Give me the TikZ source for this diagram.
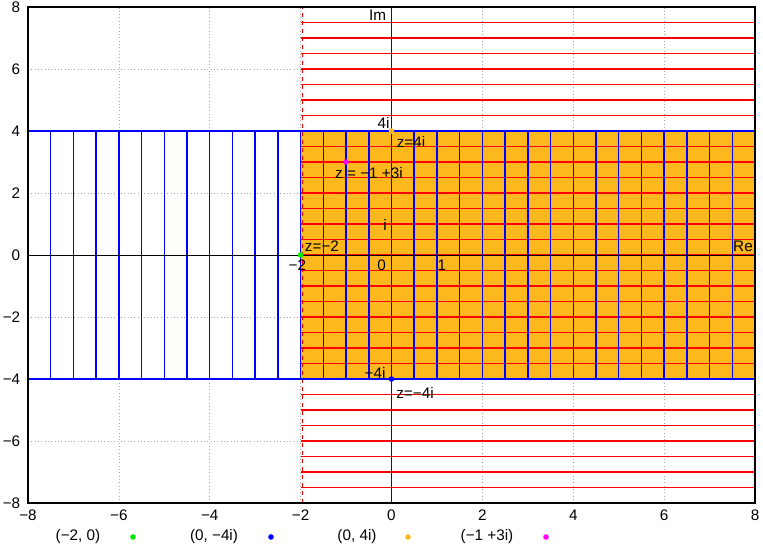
\documentclass[tikz,border=0pt]{standalone}
\usepackage{fontspec}
\setmainfont{Liberation Sans}
\usetikzlibrary{positioning}
\definecolor{regionfill}{RGB}{253,184,30}
\definecolor{ptgreen}{RGB}{0,235,0}
\definecolor{ptmagenta}{RGB}{255,0,255}

\begin{document}
\begin{tikzpicture}[x=1.2023cm,y=0.8202cm,font=\fontsize{11.5}{13}\selectfont,
    gridline/.style={gray!70,dotted,line width=0.5pt},
    hline/.style={red,line width=1.1pt},
    vline/.style={blue,line width=1.1pt},
    pt/.style={circle,fill=#1,inner sep=0pt,minimum size=4.2pt},
    lbl/.style={inner sep=0.5pt}]

    \useasboundingbox (-8.616,-9.355) rectangle (8.176,8.226);

    % grid
    \foreach \t in {-6,-4,...,6} {
        \draw[gridline] (\t,-8) -- (\t,8);
        \draw[gridline] (-8,\t) -- (8,\t);
    }

    % strip
    \fill[regionfill] (-2,-4) rectangle (8,4);
    \foreach \y in {-8,-7.5,...,8}
        \draw[hline] (-2,\y) -- (8,\y);
    \draw[red,dashed,line width=0.8pt] (-1.96,-8) -- (-1.96,8);
    \foreach \x in {-8,-7.5,...,8}
        \draw[vline] (\x,-4) -- (\x,4);
    \draw[vline] (-8,4) -- (8,4);
    \draw[vline] (-8,-4) -- (8,-4);

    % axes
    \draw[black,line width=0.6pt] (-8,0) -- (8,0);
    \draw[black!80!brown,line width=1.2pt] (0,-8) -- (0,8);
    \draw[black,line width=1pt] (-8,-8) rectangle (8,8);

    % ticks
    \foreach \t in {-8,-6,...,8} {
        \node[anchor=east,lbl] at (-8.15,\t) {\ifnum\t<0 −\the\numexpr-\t\relax\else\t\fi};
        \node[anchor=north,lbl] at (\t,-8.2) {\ifnum\t<0 −\the\numexpr-\t\relax\else\t\fi};
    }

    % points
    \node[pt=ptgreen] (pA) at (-2,0) {};
    \node[pt=blue] (pB) at (0,-4) {};
    \node[pt=regionfill] (pC) at (0,4) {};
    \node[pt=ptmagenta] (pD) at (-1,3) {};

    % labels
    \node[lbl] (im) at (-0.308,7.742) {Im};
    \node[lbl] (re) at (7.736,0.29) {Re};
    \node[lbl] (fouri) at (-0.176,4.258) {4i};
    \node[lbl] (zfouri) at (0.429,3.655) {z=4i};
    \node[lbl] (zD) at (-0.495,2.655) {z = −1 +3i};
    \node[lbl] (unit) at (-0.143,0.968) {i};
    \node[lbl] (zA) at (-1.53,0.3) {z=−2};
    \node[lbl] (mtwo) at (-2.07,-0.32) {−2};
    \node[lbl] (zero) at (-0.216,-0.32) {0};
    \node[lbl] (one) at (1.11,-0.32) {1};
    \node[lbl] (mfouri) at (-0.363,-3.8) {−4i};
    \node[lbl] (zB) at (0.517,-4.45) {z=−4i};

    % legend
    \node[lbl] (legA) at (-6.899,-9.097) {(−2, 0)};
    \node[pt=ptgreen] (dotA) at (-5.689,-9.097) {};
    \node[lbl] (legB) at (-3.906,-9.097) {(0, −4i)};
    \node[pt=blue] (dotB) at (-2.652,-9.097) {};
    \node[lbl] (legC) at (-0.759,-9.097) {(0, 4i)};
    \node[pt=regionfill] (dotC) at (0.363,-9.097) {};
    \node[lbl] (legD) at (2.102,-9.097) {(−1 +3i)};
    \node[pt=ptmagenta] (dotD) at (3.400,-9.097) {};

\end{tikzpicture}
\end{document}
